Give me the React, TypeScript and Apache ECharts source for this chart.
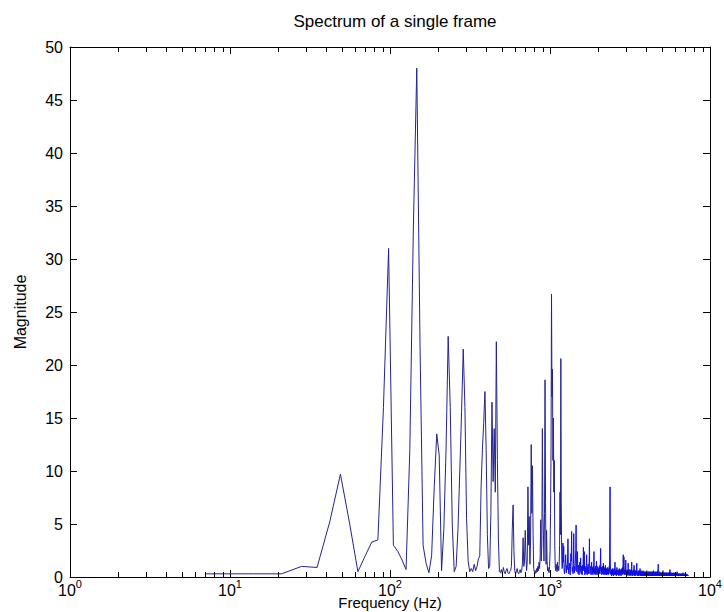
import React, { useEffect, useRef } from "react";
import * as echarts from "echarts";

const TITLE = "Spectrum of a single frame";
const X_NAME = "Frequency (Hz)";
const Y_NAME = "Magnitude";

// spectrum bins: bin k (1-based) is at k * BIN_HZ
const BIN_HZ = 7;
const X_MIN = 1;
const X_MAX = 10000;
const Y_MIN = 0;
const Y_MAX = 50;
const Y_STEP = 5;

const MINOR_TICKS = [
  2, 3, 4, 5, 6, 7, 8, 9,
  20, 30, 40, 50, 60, 70, 80, 90,
  200, 300, 400, 500, 600, 700, 800, 900,
  2000, 3000, 4000, 5000, 6000, 7000, 8000, 9000,
];

// bins 1-170 (7 Hz .. 1190 Hz)
const MAG_LOW = [
  0.3, 0.3, 0.3, 1.0, 0.9, 5.2, 9.7, 5.0, 0.5, 2.0,
  3.3, 3.5, 16, 31, 3.0, 2.4, 1.6, 0.7, 12, 33,
  48, 22, 3.0, 1.3, 0.4, 2.0, 8.5, 13.5, 11.5, 0.6,
  4.5, 12, 22.7, 16, 5.0, 0.5, 1.0, 4.5, 10, 15.5,
  21.5, 16, 5.5, 1.5, 0.5, 0.8, 0.5, 1.2, 0.6, 1.0,
  1.7, 2.0, 8.5, 12, 14.5, 17.5, 12, 4.0, 0.8, 1.0,
  6.0, 16.5, 9.0, 14, 8.0, 22.2, 11, 3.5, 0.5, 0.4,
  0.7, 0.3, 0.9, 0.5, 0.3, 0.6, 0.8, 0.4, 0.3, 0.5,
  0.6, 1.0, 4.5, 6.8, 2.5, 0.6, 0.3, 0.5, 0.8, 0.4,
  0.3, 0.5, 0.7, 0.4, 0.6, 1.2, 3.7, 1.0, 1.5, 4.4,
  2.0, 0.6, 1.5, 8.5, 3.0, 5.7, 1.2, 3.5, 12.5, 6.0,
  10.5, 4.0, 0.8, 0.5, 0.3, 0.6, 0.4, 0.8, 0.5, 1.0,
  0.6, 1.4, 0.8, 2.0, 5.4, 1.5, 3.0, 14, 6.0, 4.0,
  1.5, 6.0, 18.6, 7.0, 1.2, 4.4, 1.5, 0.6, 0.9, 0.5,
  0.4, 1.0, 2.5, 6.0, 12, 26.7, 17, 19.6, 11, 15,
  8.0, 11, 3.0, 1.0, 0.6, 1.2, 0.8, 0.5, 1.4, 0.7,
  1.0, 0.6, 1.2, 3.0, 8.0, 4.0, 20.6, 7.0, 2.0, 0.8,
];

// bins 171-500 (1197 Hz .. 3500 Hz)
const MAG_MID = [
  1.0, 3.2, 1.4, 2.9, 0.6, 0.3, 0.9, 1.2, 2.1, 0.5,
  0.4, 1.1, 0.7, 1.8, 3.6, 1.0, 0.3, 0.8, 1.3, 0.6,
  0.2, 1.0, 2.2, 1.5, 4.3, 1.1, 0.5, 0.9, 0.3, 1.2,
  4.1, 0.8, 0.4, 1.0, 0.6, 1.7, 2.6, 4.9, 1.2, 0.5,
  0.9, 2.4, 0.7, 0.3, 1.1, 0.6, 0.2, 0.9, 1.4, 0.5,
  0.8, 1.8, 0.4, 0.3, 1.0, 0.7, 0.2, 1.1, 0.6, 1.3,
  2.8, 0.6, 0.9, 2.4, 0.4, 0.2, 1.0, 0.5, 0.8, 0.3,
  1.1, 2.1, 0.6, 0.2, 0.9, 0.4, 1.2, 0.7, 0.3, 1.0,
  1.6, 3.6, 0.8, 0.3, 0.6, 1.0, 0.4, 0.2, 0.8, 1.4,
  0.5, 0.3, 0.9, 0.6, 0.2, 1.0, 0.4, 1.3, 2.4, 0.7,
  0.3, 0.8, 0.5, 0.2, 1.0, 0.6, 0.3, 0.9, 1.5, 0.4,
  0.2, 0.7, 0.5, 1.0, 0.3, 0.6, 0.2, 0.8, 0.4, 0.9,
  0.5, 0.3, 1.1, 0.6, 1.4, 2.7, 0.8, 0.3, 0.5, 0.9,
  0.2, 0.6, 0.4, 1.0, 0.3, 0.7, 0.5, 1.3, 0.4, 0.2,
  0.8, 0.5, 0.3, 0.9, 0.6, 0.2, 1.1, 0.4, 0.7, 0.3,
  0.5, 0.8, 0.2, 0.6, 0.4, 0.9, 0.3, 0.5, 0.7, 0.2,
  0.6, 0.4, 0.8, 0.3, 1.0, 0.5, 1.6, 4.7, 8.5, 2.0,
  0.6, 0.3, 0.5, 0.2, 0.7, 0.4, 0.1, 0.6, 0.3, 0.8,
  0.4, 0.2, 0.5, 0.7, 0.3, 0.1, 0.6, 0.4, 0.8, 0.3,
  0.5, 0.2, 0.9, 1.4, 0.6, 0.3, 0.5, 0.2, 0.7, 0.4,
  0.1, 0.5, 0.3, 0.9, 0.4, 0.2, 0.6, 0.3, 0.5, 0.7,
  0.2, 0.4, 0.6, 0.3, 0.1, 0.5, 0.8, 0.3, 0.4, 0.2,
  0.6, 0.3, 0.5, 0.7, 0.2, 0.4, 0.1, 0.6, 0.3, 0.5,
  0.8, 0.4, 0.2, 0.6, 0.3, 0.9, 0.5, 0.7, 1.2, 2.1,
  0.6, 0.3, 1.0, 1.9, 0.4, 0.2, 0.5, 0.3, 0.7, 0.4,
  0.2, 0.6, 0.9, 0.5, 1.6, 0.4, 0.2, 0.5, 0.3, 0.6,
  0.4, 0.1, 0.5, 0.7, 0.3, 0.6, 0.2, 0.4, 0.8, 1.3,
  0.5, 0.2, 0.4, 0.6, 0.3, 0.1, 0.5, 0.4, 0.7, 0.2,
  0.3, 0.6, 0.4, 0.2, 0.5, 0.3, 0.7, 0.4, 0.1, 0.5,
  0.3, 0.8, 1.4, 0.5, 0.2, 0.4, 0.6, 0.3, 0.1, 0.5,
  0.4, 0.2, 0.6, 0.3, 0.7, 0.4, 0.2, 0.5, 1.1, 0.3,
  0.1, 0.4, 0.6, 0.2, 0.5, 0.3, 0.4, 0.1, 0.6, 0.3,
  0.5, 0.2, 0.4, 0.6, 0.3, 0.8, 0.4, 1.3, 0.5, 0.2,
];

// bins 501-1041 (3507 Hz .. 7287 Hz)
const MAG_HIGH = [
  0.3, 0.1, 0.4, 0.2, 0.5, 0.3, 0.1, 0.4, 0.6, 0.2, 0.3, 0.5, 0.1, 0.4, 0.2, 0.3, 0.6, 0.2, 0.4, 0.3,
  0.5, 0.8, 0.3, 0.1, 0.4, 0.2, 0.5, 0.3, 0.1, 0.4, 0.6, 0.2, 0.3, 0.1, 0.5, 0.3, 0.2, 0.4, 0.1, 0.3,
  0.5, 0.2, 0.4, 0.1, 0.3, 0.6, 0.2, 0.4, 0.3, 0.1, 0.5, 0.2, 0.3, 0.4, 0.1, 0.3, 0.5, 0.2, 0.1, 0.4,
  0.2, 0.3, 0.5, 0.1, 0.4, 0.2, 0.3, 0.1, 0.5, 0.3, 0.2, 0.4, 0.1, 0.3, 0.6, 0.2, 0.4, 0.1, 0.3, 0.2,
  0.4, 0.1, 0.3, 0.5, 0.2, 0.3, 0.1, 0.4, 0.2, 0.5, 0.3, 0.1, 0.2, 0.4, 0.3, 0.1, 0.5, 0.2, 0.3, 0.1,
  0.3, 0.4, 0.2, 0.1, 0.5, 0.3, 0.2, 0.4, 0.1, 0.3, 0.2, 0.5, 0.1, 0.3, 0.4, 0.2, 0.1, 0.3, 0.5, 0.2,
  0.1, 0.4, 0.2, 0.3, 0.1, 0.5, 0.3, 0.2, 0.4, 0.1, 0.3, 0.2, 0.6, 0.1, 0.3, 0.4, 0.2, 0.1, 0.3, 0.2,
  0.4, 0.1, 0.3, 0.2, 0.5, 0.1, 0.3, 0.2, 0.4, 0.1, 0.2, 0.3, 0.5, 0.2, 0.1, 0.4, 0.3, 0.1, 0.2, 0.4,
  0.1, 0.3, 0.2, 0.5, 0.1, 0.3, 0.4, 0.2, 0.1, 0.3, 0.2, 0.4, 0.6, 0.2, 0.3, 0.5, 0.8, 1.2, 0.4, 0.2,
  0.3, 0.1, 0.4, 0.2, 0.3, 0.1, 0.2, 0.4, 0.3, 0.1, 0.2, 0.5, 0.1, 0.3, 0.2, 0.4, 0.1, 0.2, 0.3, 0.1,
  0.4, 0.2, 0.1, 0.3, 0.2, 0.4, 0.1, 0.3, 0.2, 0.1, 0.4, 0.2, 0.3, 0.1, 0.2, 0.4, 0.3, 0.1, 0.2, 0.3,
  0.1, 0.4, 0.2, 0.3, 0.5, 0.6, 0.2, 0.1, 0.3, 0.2, 0.4, 0.1, 0.2, 0.3, 0.1, 0.4, 0.2, 0.1, 0.3, 0.2,
  0.3, 0.1, 0.2, 0.4, 0.1, 0.3, 0.2, 0.1, 0.4, 0.2, 0.3, 0.1, 0.2, 0.3, 0.4, 0.1, 0.2, 0.1, 0.3, 0.2,
  0.1, 0.3, 0.2, 0.4, 0.1, 0.2, 0.3, 0.1, 0.2, 0.4, 0.3, 0.1, 0.2, 0.1, 0.3, 0.2, 0.4, 0.1, 0.2, 0.3,
  0.2, 0.1, 0.3, 0.2, 0.1, 0.4, 0.2, 0.3, 0.1, 0.2, 0.3, 0.1, 0.4, 0.2, 0.1, 0.3, 0.2, 0.5, 0.3, 0.1,
  0.2, 0.4, 0.7, 0.3, 0.1, 0.2, 0.3, 0.1, 0.2, 0.4, 0.1, 0.2, 0.3, 0.1, 0.2, 0.1, 0.3, 0.2, 0.4, 0.1,
  0.2, 0.3, 0.1, 0.2, 0.1, 0.3, 0.2, 0.4, 0.1, 0.2, 0.3, 0.1, 0.2, 0.1, 0.3, 0.2, 0.1, 0.3, 0.2, 0.1,
  0.3, 0.2, 0.1, 0.4, 0.2, 0.1, 0.3, 0.2, 0.1, 0.2, 0.3, 0.1, 0.2, 0.4, 0.1, 0.2, 0.3, 0.1, 0.2, 0.1,
  0.3, 0.2, 0.1, 0.2, 0.3, 0.1, 0.2, 0.4, 0.1, 0.2, 0.1, 0.3, 0.2, 0.1, 0.2, 0.3, 0.1, 0.2, 0.1, 0.3,
  0.2, 0.1, 0.2, 0.3, 0.1, 0.2, 0.4, 0.3, 0.1, 0.5, 0.2, 0.1, 0.3, 0.2, 0.1, 0.2, 0.3, 0.1, 0.2, 0.1,
  0.3, 0.1, 0.2, 0.1, 0.3, 0.2, 0.1, 0.2, 0.3, 0.1, 0.2, 0.1, 0.3, 0.2, 0.1, 0.2, 0.1, 0.3, 0.2, 0.1,
  0.2, 0.3, 0.1, 0.2, 0.1, 0.2, 0.3, 0.1, 0.2, 0.1, 0.3, 0.2, 0.1, 0.2, 0.1, 0.2, 0.3, 0.1, 0.2, 0.1,
  0.2, 0.1, 0.3, 0.2, 0.1, 0.2, 0.1, 0.3, 0.1, 0.2, 0.1, 0.2, 0.3, 0.1, 0.2, 0.1, 0.2, 0.1, 0.3, 0.2,
  0.1, 0.2, 0.1, 0.3, 0.2, 0.1, 0.2, 0.4, 0.1, 0.2, 0.1, 0.2, 0.1, 0.3, 0.1, 0.2, 0.1, 0.2, 0.1, 0.2,
  0.3, 0.1, 0.2, 0.1, 0.2, 0.1, 0.3, 0.1, 0.2, 0.1, 0.2, 0.1, 0.2, 0.3, 0.1, 0.2, 0.1, 0.2, 0.1, 0.2,
  0.1, 0.2, 0.1, 0.3, 0.1, 0.2, 0.1, 0.2, 0.1, 0.1, 0.2, 0.1, 0.2, 0.1, 0.3, 0.1, 0.2, 0.1, 0.1, 0.2,
  0.1, 0.2, 0.1, 0.1, 0.2, 0.1, 0.2, 0.1, 0.1, 0.2, 0.1, 0.1, 0.2, 0.1, 0.1, 0.2, 0.1, 0.1, 0.1, 0.2, 0.1,
];

// frequency where the drawn colour switches from the sparse to the dense part
const DENSE_FROM_HZ = 1200;

const FONT = "'Liberation Sans', Arial, Helvetica, sans-serif";
const TEXT = "#000000";
const LINE_DARK = "#23238f";
const LINE_DENSE = "#1010e0";

export default function App() {
  const ref = useRef<HTMLDivElement>(null);

  useEffect(() => {
    if (!ref.current) return;
    const chart = echarts.init(ref.current, null, { renderer: "svg" });

    const mags = [...MAG_LOW, ...MAG_MID, ...MAG_HIGH];
    const allData = mags.map((m, i) => [(i + 1) * BIN_HZ, m]);
    const sparseData = allData.filter((d) => d[0] <= DENSE_FROM_HZ);
    const denseData = allData.filter(
      (d, i) => d[0] >= DENSE_FROM_HZ || (allData[i + 1] && allData[i + 1][0] > DENSE_FROM_HZ && d[0] <= DENSE_FROM_HZ)
    );

    const axisLine = { show: true, onZero: false, lineStyle: { color: TEXT, width: 1 } };
    const tickStyle = { color: TEXT, width: 1 };

    const xBase = {
      type: "log",
      logBase: 10,
      min: X_MIN,
      max: X_MAX,
      axisLine,
      axisTick: { show: true, inside: true, length: 7, lineStyle: tickStyle },
      splitLine: { show: false },
      minorTick: { show: false },
      minorSplitLine: { show: false },
    };
    const yBase = {
      type: "value",
      min: Y_MIN,
      max: Y_MAX,
      interval: Y_STEP,
      axisLine,
      axisTick: { show: true, inside: true, length: 7, lineStyle: tickStyle },
      splitLine: { show: false },
    };

    const lineSeries = (data: number[][], color: string) => ({
      type: "line",
      xAxisIndex: 0,
      yAxisIndex: 0,
      data,
      showSymbol: false,
      symbol: "none",
      lineStyle: { width: 1, color },
      itemStyle: { color },
      clip: true,
      z: 2,
    });

    const option: any = {
      animation: false,
      backgroundColor: "#ffffff",
      title: {
        text: TITLE,
        left: 390,
        top: 8,
        textAlign: "center",
        textStyle: { fontSize: 17, fontWeight: "normal", color: TEXT, fontFamily: FONT },
      },
      grid: {
        left: 70,
        right: 14,
        top: 47,
        bottom: 35,
        containLabel: false,
        outerBoundsMode: "none",
      },
      xAxis: [
        {
          ...xBase,
          position: "bottom",
          name: X_NAME,
          nameLocation: "middle",
          nameGap: 18,
          nameMoveOverlap: false,
          nameTextStyle: { fontSize: 15, color: TEXT, fontFamily: FONT },
          axisLabel: {
            margin: 1,
            color: TEXT,
            fontFamily: FONT,
            formatter: (v: number) => `{b|10}{s|${Math.round(Math.log10(v))}}`,
            rich: {
              b: { fontSize: 16, lineHeight: 20, verticalAlign: "bottom", color: TEXT, fontFamily: FONT },
              s: { fontSize: 11, lineHeight: 8, verticalAlign: "top", color: TEXT, fontFamily: FONT },
            },
          },
        },
        {
          ...xBase,
          position: "top",
          axisLabel: { show: false },
        },
      ],
      yAxis: [
        {
          ...yBase,
          position: "left",
          name: Y_NAME,
          nameLocation: "middle",
          nameRotate: 90,
          nameGap: 42,
          nameMoveOverlap: false,
          nameTextStyle: { fontSize: 16, color: TEXT, fontFamily: FONT },
          axisLabel: { margin: 7, fontSize: 16, color: TEXT, fontFamily: FONT },
        },
        {
          ...yBase,
          position: "right",
          axisLabel: { show: false },
        },
      ],
      series: [
        lineSeries(sparseData, LINE_DARK),
        lineSeries(denseData, LINE_DENSE),
        {
          type: "custom",
          xAxisIndex: 0,
          yAxisIndex: 0,
          silent: true,
          clip: false,
          z: 3,
          data: MINOR_TICKS.map((v) => [v, Y_MIN]),
          renderItem: (params: any, api: any) => {
            const v = api.value(0);
            const b = api.coord([v, Y_MIN]);
            const t = api.coord([v, Y_MAX]);
            const x = Math.round(b[0]) + 0.5;
            return {
              type: "group",
              children: [
                { type: "line", shape: { x1: x, y1: b[1], x2: x, y2: b[1] - 5 }, style: { stroke: TEXT, lineWidth: 1 } },
                { type: "line", shape: { x1: x, y1: t[1], x2: x, y2: t[1] + 5 }, style: { stroke: TEXT, lineWidth: 1 } },
              ],
            };
          },
        },
      ],
    };

    chart.setOption(option);
    return () => chart.dispose();
  }, []);

  return (
    <div
      ref={ref}
      style={{ position: "fixed", left: 0, top: 0, width: 724, height: 612, background: "#ffffff" }}
    />
  );
}
